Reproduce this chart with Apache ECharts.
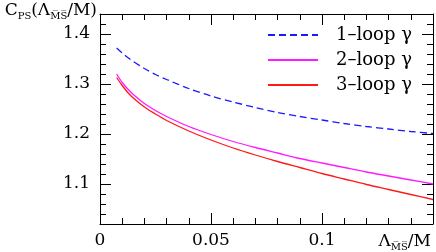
<!DOCTYPE html>
<html><head><meta charset="utf-8">
<script src="https://cdn.jsdelivr.net/npm/echarts@6/dist/echarts.min.js"></script>
<style>html,body{margin:0;padding:0;background:#fff}#c{width:436px;height:252px}</style>
</head><body><div id="c"></div>
<script>
const xValues = [0.0075,0.01,0.0125,0.015,0.02,0.025,0.03,0.04,0.05,0.06,0.07,0.08,0.09,0.1,0.11,0.12,0.13,0.14,0.15];
const loop1 = [1.372,1.362,1.353,1.345,1.331,1.319,1.309,1.291,1.276,1.264,1.253,1.243,1.235,1.228,1.221,1.215,1.210,1.205,1.201];
const loop2 = [1.320,1.303,1.290,1.279,1.261,1.247,1.235,1.215,1.199,1.185,1.173,1.162,1.151,1.142,1.133,1.124,1.116,1.108,1.100];
const loop3 = [1.313,1.297,1.283,1.272,1.254,1.240,1.227,1.206,1.188,1.172,1.158,1.145,1.133,1.121,1.110,1.099,1.089,1.079,1.069];
const seriesNames = ['1–loop γ','2–loop γ','3–loop γ'];
const yMajorTicks = [1.1,1.2,1.3,1.4];
const xTickLabels = ['0','0.05','0.1'];

const FONT = 'DejaVu Serif';
const pair = ys => xValues.map((x,i)=>[x, ys[i]]);
const richSub = { s: { fontFamily: FONT, fontSize: 10, verticalAlign: 'bottom', lineHeight: 20 } };

const chart = echarts.init(document.getElementById('c'), null, {renderer:'canvas'});
const baseX = { type:'value', min:0, max:0.15, interval:0.05, splitLine:{show:false} };
const baseY = { type:'value', min:1.02, max:1.44, splitLine:{show:false} };
const lineBlack = {show:true, lineStyle:{color:'#000', width:1}};

chart.setOption({
  animation:false,
  backgroundColor:'#fff',
  grid:{left:100, right:3, top:14, bottom:28, outerBoundsMode:'none'},
  legend:{
    orient:'vertical', left:267, top:25, padding:0, itemGap:5,
    itemWidth:50, itemHeight:14,
    data: seriesNames,
    itemStyle:{opacity:0},
    textStyle:{fontFamily:FONT, fontSize:18, lineHeight:20, color:'#000', padding:[0,0,0,13]}
  },
  xAxis:[
    Object.assign({}, baseX, {position:'bottom', axisLine:lineBlack,
      axisTick:{show:true, inside:true, length:11, lineStyle:{color:'#000'}},
      minorTick:{show:true, splitNumber:5, length:6, lineStyle:{color:'#000'}},
      axisLabel:{show:true, margin:8, color:'#000', fontFamily:FONT, fontSize:17,
        formatter:(v)=>{ const i=Math.round(v/0.05); return i<xTickLabels.length? xTickLabels[i] : ''; }},
      name:'Λ{s|M̅S̅}/M', nameLocation:'end', nameGap:0,
      nameTextStyle:{fontFamily:FONT, fontSize:17, color:'#000', align:'right', verticalAlign:'top', padding:[8,2,0,0], rich:richSub}
    }),
    Object.assign({}, baseX, {position:'top', axisLine:lineBlack,
      axisTick:{show:true, inside:true, length:11, lineStyle:{color:'#000'}},
      minorTick:{show:true, splitNumber:5, length:6, lineStyle:{color:'#000'}},
      axisLabel:{show:false}})
  ],
  yAxis:[
    Object.assign({}, baseY, {position:'left', axisLine:lineBlack,
      axisTick:{show:true, inside:true, length:11, customValues:yMajorTicks, lineStyle:{color:'#000'}},
      axisLabel:{show:true, margin:10, customValues:yMajorTicks, color:'#000', fontFamily:FONT, fontSize:17,
        formatter:(v)=>v.toFixed(1)},
      name:'C{s|PS}(Λ{s|M̅S̅}/M)', nameLocation:'end', nameGap:3,
      nameTextStyle:{fontFamily:FONT, fontSize:17, color:'#000', align:'right', verticalAlign:'middle', padding:[0,3,0,0], rich:richSub, lineHeight:20}
    }),
    Object.assign({}, baseY, {position:'left', interval:0.02, axisLine:{show:false},
      axisTick:{show:true, inside:true, length:6, lineStyle:{color:'#000'}},
      axisLabel:{show:false}}),
    Object.assign({}, baseY, {position:'right', axisLine:lineBlack,
      axisTick:{show:true, inside:true, length:11, customValues:yMajorTicks, lineStyle:{color:'#000'}},
      axisLabel:{show:false}}),
    Object.assign({}, baseY, {position:'right', interval:0.02, axisLine:{show:false},
      axisTick:{show:true, inside:true, length:6, lineStyle:{color:'#000'}},
      axisLabel:{show:false}})
  ],
  series:[
    {name:seriesNames[0], type:'line', xAxisIndex:0, yAxisIndex:0, data:pair(loop1), symbol:'none', smooth:0.3,
      color:'#1a1aff', lineStyle:{color:'#1a1aff', width:1.3, type:[7,4]}},
    {name:seriesNames[1], type:'line', xAxisIndex:0, yAxisIndex:0, data:pair(loop2), symbol:'none', smooth:0.3,
      color:'#ff1aff', lineStyle:{color:'#ff1aff', width:1.3}},
    {name:seriesNames[2], type:'line', xAxisIndex:0, yAxisIndex:0, data:pair(loop3), symbol:'none', smooth:0.3,
      color:'#ff1a1a', lineStyle:{color:'#ff1a1a', width:1.3}}
  ]
});
</script></body></html>
